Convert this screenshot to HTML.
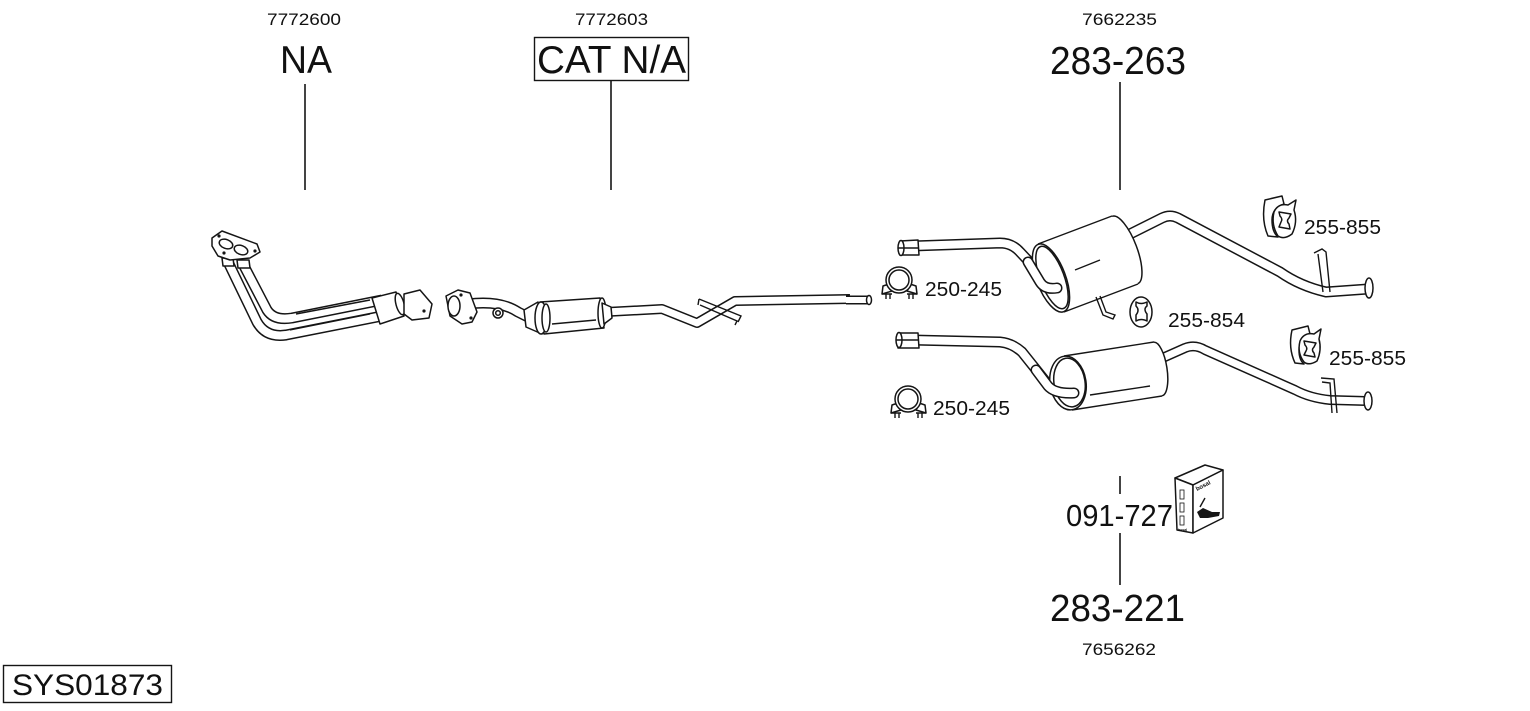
<!DOCTYPE html>
<html><head><meta charset="utf-8"><style>
html,body{margin:0;padding:0;background:#fff;}
svg{display:block;}
text{font-family:"Liberation Sans",Arial,sans-serif;fill:#111;}
.o{fill:none;stroke:#151515;stroke-linejoin:round;}
.w{fill:none;stroke:#fff;stroke-linejoin:round;}
.s{fill:#fff;stroke:#151515;stroke-width:1.5;stroke-linejoin:round;}
.l{fill:none;stroke:#151515;stroke-width:1.4;}
</style></head><body>
<svg width="1530" height="711" viewBox="0 0 1530 711" xmlns="http://www.w3.org/2000/svg">
<rect width="1530" height="711" fill="#fff"/>

<!-- labels top -->
<text x="267" y="25" font-size="17" textLength="74" lengthAdjust="spacingAndGlyphs">7772600</text>
<text x="280" y="73" font-size="39" textLength="52" lengthAdjust="spacingAndGlyphs">NA</text>
<line x1="305" y1="84" x2="305" y2="190" stroke="#151515" stroke-width="1.6"/>

<text x="575" y="25" font-size="17" textLength="73" lengthAdjust="spacingAndGlyphs">7772603</text>
<rect x="534.5" y="37.5" width="154" height="43" fill="none" stroke="#151515" stroke-width="1.4"/>
<text x="537" y="73" font-size="39" textLength="149" lengthAdjust="spacingAndGlyphs">CAT N/A</text>
<line x1="611" y1="81" x2="611" y2="190" stroke="#151515" stroke-width="1.6"/>

<text x="1082" y="25" font-size="17" textLength="75" lengthAdjust="spacingAndGlyphs">7662235</text>
<text x="1050" y="74" font-size="39" textLength="136" lengthAdjust="spacingAndGlyphs">283-263</text>
<line x1="1120" y1="82" x2="1120" y2="190" stroke="#151515" stroke-width="1.6"/>

<!-- bottom labels -->
<line x1="1120" y1="476" x2="1120" y2="494" stroke="#151515" stroke-width="1.6"/>
<text x="1066" y="526" font-size="31" textLength="107" lengthAdjust="spacingAndGlyphs">091-727</text>
<line x1="1120" y1="533" x2="1120" y2="585" stroke="#151515" stroke-width="1.6"/>
<text x="1050" y="621" font-size="38" textLength="135" lengthAdjust="spacingAndGlyphs">283-221</text>
<text x="1082" y="655" font-size="17" textLength="74" lengthAdjust="spacingAndGlyphs">7656262</text>

<rect x="3.5" y="665.5" width="168" height="37" fill="none" stroke="#151515" stroke-width="1.4"/>
<text x="12" y="695" font-size="30" textLength="151" lengthAdjust="spacingAndGlyphs">SYS01873</text>

<!-- part labels -->
<text x="925" y="296" font-size="20" textLength="77" lengthAdjust="spacingAndGlyphs">250-245</text>
<text x="1168" y="327" font-size="20" textLength="77" lengthAdjust="spacingAndGlyphs">255-854</text>
<text x="1304" y="234" font-size="20" textLength="77" lengthAdjust="spacingAndGlyphs">255-855</text>
<text x="1329" y="365" font-size="20" textLength="77" lengthAdjust="spacingAndGlyphs">255-855</text>
<text x="933" y="415" font-size="20" textLength="77" lengthAdjust="spacingAndGlyphs">250-245</text>

<!-- ===== Part 1: manifold downpipe ===== -->
<path class="o" stroke-width="11" d="M228 262 L257 322 Q266 338 286 335 L382 316"/>
<path class="w" stroke-width="8" d="M228 262 L257 322 Q266 338 286 335 L382 316"/>
<path class="o" stroke-width="11" d="M243 264 L267 310 Q274 321 292 318 L382 300"/>
<path class="w" stroke-width="8" d="M243 264 L267 310 Q274 321 292 318 L382 300"/>
<path class="l" d="M290 330 L370 314 M296 314 L370 300"/>
<path class="s" d="M372 298 L396 292 L404 316 L380 324 Z"/>
<ellipse class="s" cx="400" cy="304" rx="4" ry="11" transform="rotate(-15 400 304)"/>
<path class="s" d="M404 294 L420 290 L432 304 L429 318 L412 320 L404 314 Z"/>
<circle cx="424" cy="311" r="1.6" fill="#151515"/>
<path class="s" d="M222 258 L233 258 L234 266 L223 266 Z"/>
<path class="s" d="M237 260 L249 260 L250 268 L238 268 Z"/>
<path class="s" d="M212 238 L222 231 L257 244 L260 252 L250 258 L230 260 L218 256 L212 246 Z"/>
<ellipse class="s" cx="226" cy="244" rx="7" ry="4.5" transform="rotate(20 226 244)"/>
<ellipse class="s" cx="241" cy="250" rx="7" ry="4.5" transform="rotate(20 241 250)"/>
<circle cx="219" cy="236" r="1.6" fill="#151515"/>
<circle cx="255" cy="251" r="1.6" fill="#151515"/>
<circle cx="224" cy="253" r="1.6" fill="#151515"/>

<!-- ===== Part 2: catalyst section ===== -->
<path class="o" stroke-width="11" d="M468 304 Q500 300 518 312 L530 318"/>
<path class="w" stroke-width="8" d="M468 304 Q500 300 518 312 L530 318"/>
<circle class="s" cx="498" cy="313" r="5"/>
<circle class="s" cx="498" cy="313" r="2.3"/>
<path class="s" d="M446 296 L458 290 L470 293 L477 312 L472 322 L462 324 L450 316 Z"/>
<ellipse class="s" cx="454" cy="306" rx="6" ry="10"/>
<circle cx="461" cy="295" r="1.6" fill="#151515"/>
<circle cx="471" cy="318" r="1.6" fill="#151515"/>
<path class="o" stroke-width="10" d="M606 312 L662 309 L697 323 L735 301 L850 299"/>
<path class="w" stroke-width="7" d="M606 312 L662 309 L697 323 L735 301 L850 299"/>
<path class="o" stroke-width="9" d="M846 300 L869 300"/>
<path class="w" stroke-width="6" d="M846 300 L869 300"/>
<ellipse class="s" cx="869" cy="300" rx="2.5" ry="4.5"/>
<path class="s" d="M524 310 L538 302 L542 334 L526 327 Z"/>
<path class="s" d="M540 302 L600 298 L604 328 L544 334 Z"/>
<ellipse class="s" cx="541" cy="318" rx="6" ry="16"/>
<ellipse class="s" cx="546" cy="318" rx="4" ry="14"/>
<ellipse class="s" cx="602" cy="313" rx="4" ry="15"/>
<path class="s" d="M602 303 L611 307 L612 318 L604 324 Z"/>
<path class="l" d="M552 324 L596 320"/>
<path class="l" stroke-width="1.6" d="M699 299 L741 316 L738 322 M700 305 L737 321 L735 325 M699 299 L698 305"/>

<!-- ===== Part 3: upper rear muffler ===== -->
<path class="o" stroke-width="11" d="M912 246 L1000 243 Q1012 243 1020 252 L1052 286"/>
<path class="w" stroke-width="8" d="M912 246 L1000 243 Q1012 243 1020 252 L1052 286"/>
<path class="s" d="M900 241 L918 240 L919 255 L900 255 Z"/>
<ellipse class="s" cx="901" cy="248" rx="3" ry="7.5"/>
<path class="l" d="M898 248 L918 248"/>
<path class="o" stroke-width="11" d="M1126 236 L1162 218 Q1170 214 1178 218 L1280 272 Q1300 286 1326 292 L1368 289"/>
<path class="w" stroke-width="8" d="M1126 236 L1162 218 Q1170 214 1178 218 L1280 272 Q1300 286 1326 292 L1368 289"/>
<ellipse class="s" cx="1369" cy="288" rx="4" ry="10"/>
<path class="l" stroke-width="1.6" d="M1314 253 L1322 249 L1326 252 L1330 292 M1318 254 L1323 292"/>
<ellipse class="s" stroke-width="1.8" cx="1125" cy="250" rx="12" ry="36" transform="rotate(-20.7 1125 250)"/>
<path d="M1038 244 L1112 216 L1138 284 L1064 312 Z" fill="#fff"/>
<path class="l" stroke-width="1.7" d="M1038 244 L1112 216 M1064 312 L1138 284"/>
<ellipse class="s" stroke-width="2" cx="1051" cy="278" rx="14.5" ry="36" transform="rotate(-20.7 1051 278)"/>
<ellipse class="s" stroke-width="1.6" cx="1052" cy="277.5" rx="12" ry="33" transform="rotate(-20.7 1052 277.5)"/>
<path class="l" d="M1075 270 L1100 260"/>
<path class="o" stroke-width="11" stroke-linecap="round" d="M1028 262 L1040 282 Q1045 290 1057 288"/>
<path class="w" stroke-width="8" stroke-linecap="round" d="M1028 262 L1040 282 Q1045 290 1057 288"/>
<path class="l" stroke-width="1.6" d="M1096 297 L1103 315 L1113 319 L1115 315 L1106 312 L1100 296"/>
<!-- clamp 250-245 upper -->
<path class="s" d="M882 294 L883 286 L889 284 L892 291 Z"/>
<path class="s" d="M917 294 L916 286 L910 284 L907 291 Z"/>
<circle class="s" stroke-width="1.6" cx="899" cy="280" r="13"/>
<circle class="s" cx="899" cy="280" r="10"/>
<path class="l" d="M886 294 L886 299 M890 294 L890 299 M909 294 L909 299 M913 294 L913 299"/>
<path class="l" d="M882 294 L892 294 M907 294 L917 294"/>
<!-- hanger 255-854 -->
<ellipse class="s" cx="1141" cy="312" rx="11" ry="15"/>
<path class="s" d="M1136 302 Q1141 305 1147 302 L1147 306 Q1143 309 1147 314 L1147 321 Q1141 318 1136 321 L1136 315 Q1140 310 1136 306 Z"/>
<!-- hanger 255-855 upper -->
<path class="s" d="M1265 200 L1282 196 L1284 204 Q1272 208 1272 220 Q1272 232 1278 237 L1268 236 Q1261 220 1265 200 Z"/>
<path class="s" d="M1274 212 Q1278 203 1288 205 L1296 200 L1294 210 Q1298 222 1292 234 Q1284 240 1278 236 Q1271 225 1274 212 Z"/>
<path class="s" d="M1279 212 L1291 214 L1289 218 Q1286 221 1289 224 L1290 229 L1279 227 L1281 222 Q1283 219 1280 216 Z"/>
<!-- ===== Part 4: lower rear muffler ===== -->
<path class="o" stroke-width="11" d="M912 340 L1000 342 Q1012 343 1022 352 L1046 382"/>
<path class="w" stroke-width="8" d="M912 340 L1000 342 Q1012 343 1022 352 L1046 382"/>
<path class="s" d="M898 333 L918 333 L919 348 L898 348 Z"/>
<ellipse class="s" cx="899" cy="340" rx="3" ry="7.5"/>
<path class="l" d="M896 340 L918 340"/>
<path class="o" stroke-width="10" d="M1158 360 L1185 348 Q1195 344 1205 350 L1295 390 Q1310 398 1330 400 L1366 401"/>
<path class="w" stroke-width="7" d="M1158 360 L1185 348 Q1195 344 1205 350 L1295 390 Q1310 398 1330 400 L1366 401"/>
<ellipse class="s" cx="1368" cy="401" rx="4" ry="9"/>
<path class="l" stroke-width="1.6" d="M1321 378 L1334 379 L1337 413 M1322 382 L1330 383 L1332 413"/>
<ellipse class="s" stroke-width="1.8" cx="1158" cy="369" rx="9" ry="27" transform="rotate(-8.8 1158 369)"/>
<path d="M1064 356 L1154 342 L1162 396 L1072 410 Z" fill="#fff"/>
<path class="l" stroke-width="1.7" d="M1064 356 L1154 342 M1072 410 L1162 396"/>
<ellipse class="s" stroke-width="2" cx="1068" cy="383" rx="18" ry="27" transform="rotate(-8.8 1068 383)"/>
<ellipse class="s" stroke-width="1.6" cx="1069.5" cy="382.5" rx="15.5" ry="24.5" transform="rotate(-8.8 1069.5 382.5)"/>
<path class="l" d="M1090 395 L1150 386"/>
<path class="o" stroke-width="11" stroke-linecap="round" d="M1036 370 L1048 386 Q1055 394 1074 393"/>
<path class="w" stroke-width="8" stroke-linecap="round" d="M1036 370 L1048 386 Q1055 394 1074 393"/>
<!-- clamp lower -->
<path class="s" d="M891 413 L892 405 L898 403 L901 410 Z"/>
<path class="s" d="M926 413 L925 405 L919 403 L916 410 Z"/>
<circle class="s" stroke-width="1.6" cx="908" cy="399" r="13"/>
<circle class="s" cx="908" cy="399" r="10"/>
<path class="l" d="M895 413 L895 418 M899 413 L899 418 M918 413 L918 418 M922 413 L922 418"/>
<path class="l" d="M891 413 L901 413 M916 413 L926 413"/>
<!-- hanger 255-855 lower -->
<path class="s" d="M1292 330 L1308 326 L1310 334 Q1299 338 1299 350 Q1299 360 1304 364 L1295 363 Q1288 348 1292 330 Z"/>
<path class="s" d="M1300 341 Q1304 332 1314 334 L1321 329 L1319 339 Q1322 350 1317 361 Q1309 366 1304 362 Q1297 353 1300 341 Z"/>
<path class="s" d="M1304 341 L1316 343 L1314 347 Q1311 350 1314 353 L1315 357 L1304 355 L1306 351 Q1308 348 1305 345 Z"/>

<!-- ===== box 091-727 ===== -->
<path class="s" d="M1175 478 L1205 465 L1223 470 L1193 485 Z"/>
<path class="s" d="M1175 478 L1193 485 L1193 533 L1177 530 Z"/>
<path class="s" d="M1193 485 L1223 470 L1223 518 L1193 533 Z"/>
<rect x="1180" y="490" width="4" height="9" fill="none" stroke="#151515" stroke-width="0.8"/>
<rect x="1180" y="503" width="4" height="9" fill="none" stroke="#151515" stroke-width="0.8"/>
<rect x="1180" y="516" width="4" height="9" fill="none" stroke="#151515" stroke-width="0.8"/>
<text x="0" y="0" font-size="6" font-weight="bold" transform="translate(1197 491) rotate(-27)">bosal</text>
<path d="M1197 512 L1203 508 L1212 512 L1220 512 L1219 516 L1208 518 L1200 518 Z" fill="#151515"/>
<path class="l" stroke-width="0.9" d="M1200 507 L1205 498"/>
<text x="1178" y="531" font-size="3.5" font-weight="bold">bosal</text>
</svg>
</body></html>
